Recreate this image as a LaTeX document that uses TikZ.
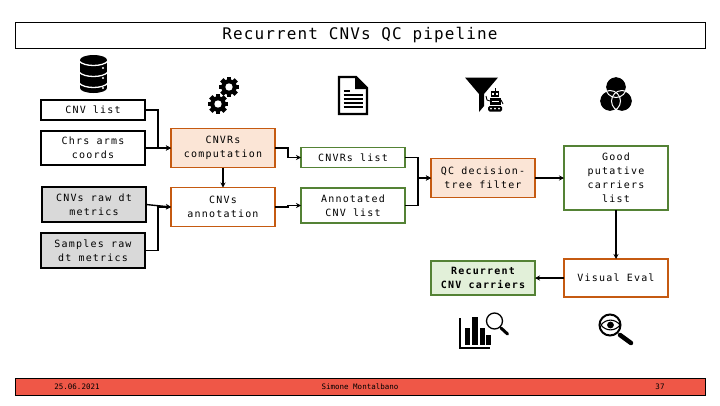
\documentclass[tikz,border=0pt]{standalone}
\usepackage{xcolor}
\usepackage{fontspec}
\usepackage{tikz}
\usetikzlibrary{arrows.meta,positioning,calc}
\newfontfamily\boxfont[LetterSpace=12]{DejaVu Sans Mono}
\newfontfamily\titlefont[LetterSpace=7]{DejaVu Sans Mono}
\newfontfamily\footfont{DejaVu Sans Mono}
\definecolor{cProc}{HTML}{C55A11}
\definecolor{cProcFill}{HTML}{FBE5D6}
\definecolor{cList}{HTML}{548235}
\definecolor{cListFill}{HTML}{E2F0D9}
\definecolor{cRaw}{HTML}{D9D9D9}
\definecolor{cFoot}{HTML}{EF5747}
\tikzset{
  bx/.style={draw=#1, line width=1.6pt, align=center, inner sep=0pt, outer sep=0pt,
             minimum width=104pt, text=black,
             font=\boxfont\fontsize{10}{14}\selectfont},
  src/.style={bx=black},
  raw/.style={bx=black, fill=cRaw},
  proc/.style={bx=cProc},
  procf/.style={bx=cProc, fill=cProcFill},
  lst/.style={bx=cList},
  res/.style={bx=cList, fill=cListFill, font=\boxfont\bfseries\fontsize{10}{14}\selectfont},
  flow/.style={-{Stealth[length=5pt,width=5pt]}, line width=1.4pt, draw=black},
  foottxt/.style={font=\footfont\fontsize{7.5}{9}\selectfont, text=black, inner sep=0pt},
}
% one gear icon
\newcommand{\gearicon}[1]{
  \begin{scope}[shift={(#1)}]
    \foreach \a in {0,45,...,315}
      \fill[rotate=\a] (-2.3,6) rectangle (2.3,10.2);
    \fill (0,0) circle (7.8);
    \fill[white] (0,0) circle (3.7);
  \end{scope}
}
\begin{document}
\begin{tikzpicture}[x=1pt,y=-1pt]
  \useasboundingbox (0,0) rectangle (720,405);

  % title and footer
  \node[draw=black, line width=1pt, minimum width=690pt, minimum height=26pt, inner sep=0pt, outer sep=0pt,
        font=\titlefont\fontsize{16}{18}\selectfont] (title) at (360,35) {Recurrent CNVs QC pipeline};
  \node[draw=black, line width=1pt, fill=cFoot, minimum width=690pt, minimum height=17pt, inner sep=0pt, outer sep=0pt] (foot) at (360,386.5) {};
  \node[foottxt] (date) at (77,386.5) {25.06.2021};
  \node[foottxt] (name) at (360,386.5) {Simone Montalbano};
  \node[foottxt] (page) at (660,386.5) {37};

  % inputs
  \node[src, minimum height=20pt] (cnvl) at (93,110) {CNV list};
  \node[src, minimum height=34pt, below=11pt of cnvl] (chrs) {Chrs arms\\coords};
  \node[raw, minimum height=35pt, below=22pt of chrs, xshift=1pt] (cnvraw) {CNVs raw dt\\metrics};
  \node[raw, minimum height=35pt, below=11pt of cnvraw, xshift=-1pt] (smpraw) {Samples raw\\dt metrics};

  % computation
  \node[procf, minimum height=39pt, right=26pt of chrs] (comp) {CNVRs\\computation};
  \node[proc, minimum height=39pt, below=20pt of comp] (annot) {CNVs\\annotation};

  % lists and filter
  \node[lst, minimum height=20pt, right=26pt of comp, yshift=-9.5pt] (rlist) {CNVRs list};
  \node[lst, minimum height=35pt, right=26pt of annot, yshift=1.5pt] (alist) {Annotated\\CNV list};
  \node[procf, minimum height=39pt, right=26pt of rlist, yshift=-20.5pt] (qc) {QC decision-\\tree filter};
  \node[lst, minimum height=64pt, right=29pt of qc] (good) {Good\\putative\\carriers\\list};
  \node[proc, minimum height=38pt, below=49pt of good] (visual) {Visual Eval};
  \node[res, minimum height=34pt, left=29pt of visual] (recur) {Recurrent\\CNV carriers};

  \draw[flow] (cnvl.east) -- ++(13,0) |- (comp.west);
  \draw[flow] (chrs.east) -- (comp.west);
  \draw[flow] (cnvraw.east) -- (annot.west);
  \draw[flow] (smpraw.east) -- ++(13,0) |- (annot.west);
  \draw[flow] (comp.south) -- (annot.north);
  \draw[flow] (comp.east) -- ++(13,0) |- (rlist.west);
  \draw[flow] (annot.east) -- ++(13,0) |- (alist.west);
  \draw[flow] (rlist.east) -- ++(13,0) |- (qc.west);
  \draw[flow] (alist.east) -- ++(13,0) |- (qc.west);
  \draw[flow] (qc.east) -- (good.west);
  \draw[flow] (good.south) -- (visual.north);
  \draw[flow] (visual.west) -- (recur.east);

  % database icon
  \fill (93.5,60) ellipse (13.5 and 5);
  \fill (80,60) rectangle (107,88);
  \fill (93.5,88) ellipse (13.5 and 5);
  \foreach \y in {61,72,83}
    \draw[white, line width=1.3pt] (79,\y) .. controls (84,\y+6) and (103,\y+6) .. (108,\y);
  \foreach \y in {68,78,88}
    \fill[white] (103,\y) circle (1.2);

  % gears
  \gearicon{229,87}
  \gearicon{218,104}

  % document icon
  \draw[line width=2.2pt, line join=miter] (339,77) -- (356,77) -- (367,88) -- (367,114) -- (339,114) -- cycle;
  \fill (355,76) -- (368,89) -- (355,89) -- cycle;
  \draw[line width=1.3pt] (343.5,91) -- (350,91);
  \foreach \y in {95,99,103,107}
    \draw[line width=1.3pt] (343.5,\y) -- (363,\y);

  % funnel and robot
  \fill (465,77.5) -- (498,77.5) -- (484,94) -- (484,106) -- (479,112) -- (479,94) -- cycle;
  \fill (491,91) rectangle (499,97);
  \fill (494.5,88) rectangle (495.5,91);
  \fill (490,98) rectangle (501,105);
  \fill[white] (492,93) rectangle (494,94.5);
  \fill[white] (496,93) rectangle (498,94.5);
  \draw[white, line width=0.6pt] (491.5,101) -- (499,101);
  \draw[line width=0.9pt] (490,101) -- (487,100) -- (486,96);
  \draw[line width=0.9pt] (501,100) -- (503,104);
  \fill[rounded corners=1.5pt] (488,106) rectangle (502,111.5);
  \foreach \x in {491,495,499}
    \fill[white] (\x,108.7) circle (1);

  % venn icon
  \foreach \c in {(616,87),(610,101),(622,101)}
    \fill \c circle (10);
  \foreach \c in {(616,87),(610,101),(622,101)}
    \draw[white, line width=1pt] \c circle (10.5);

  % chart with magnifier
  \draw[line width=1.6pt] (460,318) -- (460,348) -- (490,348);
  \fill (465,328) rectangle (470,345);
  \fill (472,317) rectangle (478,345);
  \fill (480,328) rectangle (484.5,345);
  \fill (486,335) rectangle (490.5,345);
  \draw[line width=1.3pt] (494.5,321) circle (8);
  \draw[line width=3pt, line cap=round] (501,328) -- (507.5,334);

  % eye with magnifier
  \draw[line width=2pt] (610,325) circle (10.5);
  \draw[line width=4.5pt, line cap=round] (620,335) -- (631,343);
  \draw[line width=1.1pt] (601,325) .. controls (606,318.5) and (615,318.5) .. (620,325)
    .. controls (615,331.5) and (606,331.5) .. (601,325);
  \fill (610.5,325) circle (3.4);
\end{tikzpicture}
\end{document}
